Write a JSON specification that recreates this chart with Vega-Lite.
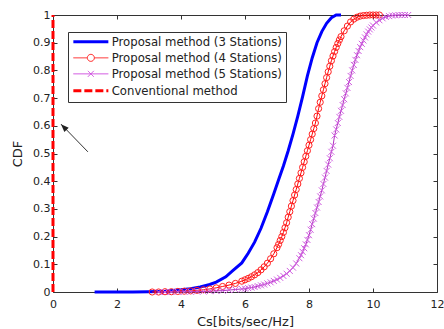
{
  "$schema": "https://vega.github.io/schema/vega-lite/v6.json",
  "width": 384,
  "height": 277,
  "autosize": "none",
  "padding": {"left": 53, "top": 15, "right": 7, "bottom": 37},
  "background": "white",
  "config": {
    "view": {"stroke": null},
    "axis": {
      "domainColor": "#333", "tickColor": "#333", "labelColor": "#222",
      "labelFont": "DejaVu Sans", "labelFontSize": 11,
      "titleFont": "DejaVu Sans", "titleFontSize": 13, "titleFontWeight": "normal", "titleColor": "#222",
      "grid": false, "tickSize": -4, "labelFlush": false, "labelOverlap": false
    }
  },
  "datasets": {
    "curves": [
      {"series": "Conventional method", "x": 0, "y": 0},
      {"series": "Conventional method", "x": 0, "y": 1},
      {"series": "Proposal method (3 Stations)", "x": 1.3, "y": 0},
      {"series": "Proposal method (3 Stations)", "x": 2, "y": 0},
      {"series": "Proposal method (3 Stations)", "x": 2.5, "y": 0},
      {"series": "Proposal method (3 Stations)", "x": 3, "y": 0.001},
      {"series": "Proposal method (3 Stations)", "x": 3.5, "y": 0.003},
      {"series": "Proposal method (3 Stations)", "x": 4, "y": 0.008},
      {"series": "Proposal method (3 Stations)", "x": 4.3, "y": 0.012},
      {"series": "Proposal method (3 Stations)", "x": 4.6, "y": 0.018},
      {"series": "Proposal method (3 Stations)", "x": 4.9, "y": 0.027},
      {"series": "Proposal method (3 Stations)", "x": 5.1, "y": 0.036},
      {"series": "Proposal method (3 Stations)", "x": 5.4, "y": 0.055},
      {"series": "Proposal method (3 Stations)", "x": 5.6, "y": 0.075},
      {"series": "Proposal method (3 Stations)", "x": 5.9, "y": 0.105},
      {"series": "Proposal method (3 Stations)", "x": 6.1, "y": 0.14},
      {"series": "Proposal method (3 Stations)", "x": 6.3, "y": 0.18},
      {"series": "Proposal method (3 Stations)", "x": 6.5, "y": 0.23},
      {"series": "Proposal method (3 Stations)", "x": 6.7, "y": 0.29},
      {"series": "Proposal method (3 Stations)", "x": 6.9, "y": 0.355},
      {"series": "Proposal method (3 Stations)", "x": 7.05, "y": 0.405},
      {"series": "Proposal method (3 Stations)", "x": 7.2, "y": 0.455},
      {"series": "Proposal method (3 Stations)", "x": 7.35, "y": 0.51},
      {"series": "Proposal method (3 Stations)", "x": 7.5, "y": 0.57},
      {"series": "Proposal method (3 Stations)", "x": 7.65, "y": 0.635},
      {"series": "Proposal method (3 Stations)", "x": 7.8, "y": 0.705},
      {"series": "Proposal method (3 Stations)", "x": 7.95, "y": 0.78},
      {"series": "Proposal method (3 Stations)", "x": 8.1, "y": 0.845},
      {"series": "Proposal method (3 Stations)", "x": 8.25, "y": 0.9},
      {"series": "Proposal method (3 Stations)", "x": 8.4, "y": 0.94},
      {"series": "Proposal method (3 Stations)", "x": 8.55, "y": 0.97},
      {"series": "Proposal method (3 Stations)", "x": 8.7, "y": 0.99},
      {"series": "Proposal method (3 Stations)", "x": 8.85, "y": 1},
      {"series": "Proposal method (3 Stations)", "x": 9.0, "y": 1},
      {"series": "Proposal method (4 Stations)", "x": 3.1, "y": 0},
      {"series": "Proposal method (4 Stations)", "x": 3.3, "y": 0},
      {"series": "Proposal method (4 Stations)", "x": 3.5, "y": 0.001},
      {"series": "Proposal method (4 Stations)", "x": 3.7, "y": 0.001},
      {"series": "Proposal method (4 Stations)", "x": 3.9, "y": 0.002},
      {"series": "Proposal method (4 Stations)", "x": 4.1, "y": 0.003},
      {"series": "Proposal method (4 Stations)", "x": 4.3, "y": 0.004},
      {"series": "Proposal method (4 Stations)", "x": 4.5, "y": 0.006},
      {"series": "Proposal method (4 Stations)", "x": 4.7, "y": 0.008},
      {"series": "Proposal method (4 Stations)", "x": 4.9, "y": 0.011},
      {"series": "Proposal method (4 Stations)", "x": 5.1, "y": 0.015},
      {"series": "Proposal method (4 Stations)", "x": 5.3, "y": 0.02},
      {"series": "Proposal method (4 Stations)", "x": 5.5, "y": 0.025},
      {"series": "Proposal method (4 Stations)", "x": 5.7, "y": 0.031},
      {"series": "Proposal method (4 Stations)", "x": 5.9, "y": 0.039},
      {"series": "Proposal method (4 Stations)", "x": 6.0, "y": 0.044},
      {"series": "Proposal method (4 Stations)", "x": 6.1, "y": 0.049},
      {"series": "Proposal method (4 Stations)", "x": 6.2, "y": 0.055},
      {"series": "Proposal method (4 Stations)", "x": 6.3, "y": 0.062},
      {"series": "Proposal method (4 Stations)", "x": 6.4, "y": 0.07},
      {"series": "Proposal method (4 Stations)", "x": 6.5, "y": 0.08},
      {"series": "Proposal method (4 Stations)", "x": 6.6, "y": 0.091},
      {"series": "Proposal method (4 Stations)", "x": 6.7, "y": 0.104},
      {"series": "Proposal method (4 Stations)", "x": 6.8, "y": 0.12},
      {"series": "Proposal method (4 Stations)", "x": 6.9, "y": 0.138},
      {"series": "Proposal method (4 Stations)", "x": 7.0, "y": 0.16},
      {"series": "Proposal method (4 Stations)", "x": 7.05, "y": 0.172},
      {"series": "Proposal method (4 Stations)", "x": 7.1, "y": 0.186},
      {"series": "Proposal method (4 Stations)", "x": 7.15, "y": 0.2},
      {"series": "Proposal method (4 Stations)", "x": 7.2, "y": 0.215},
      {"series": "Proposal method (4 Stations)", "x": 7.25, "y": 0.232},
      {"series": "Proposal method (4 Stations)", "x": 7.3, "y": 0.25},
      {"series": "Proposal method (4 Stations)", "x": 7.35, "y": 0.27},
      {"series": "Proposal method (4 Stations)", "x": 7.4, "y": 0.29},
      {"series": "Proposal method (4 Stations)", "x": 7.45, "y": 0.31},
      {"series": "Proposal method (4 Stations)", "x": 7.5, "y": 0.33},
      {"series": "Proposal method (4 Stations)", "x": 7.55, "y": 0.35},
      {"series": "Proposal method (4 Stations)", "x": 7.6, "y": 0.37},
      {"series": "Proposal method (4 Stations)", "x": 7.65, "y": 0.39},
      {"series": "Proposal method (4 Stations)", "x": 7.7, "y": 0.41},
      {"series": "Proposal method (4 Stations)", "x": 7.75, "y": 0.43},
      {"series": "Proposal method (4 Stations)", "x": 7.8, "y": 0.45},
      {"series": "Proposal method (4 Stations)", "x": 7.85, "y": 0.47},
      {"series": "Proposal method (4 Stations)", "x": 7.9, "y": 0.49},
      {"series": "Proposal method (4 Stations)", "x": 7.95, "y": 0.51},
      {"series": "Proposal method (4 Stations)", "x": 8.0, "y": 0.53},
      {"series": "Proposal method (4 Stations)", "x": 8.05, "y": 0.55},
      {"series": "Proposal method (4 Stations)", "x": 8.1, "y": 0.57},
      {"series": "Proposal method (4 Stations)", "x": 8.15, "y": 0.59},
      {"series": "Proposal method (4 Stations)", "x": 8.2, "y": 0.61},
      {"series": "Proposal method (4 Stations)", "x": 8.25, "y": 0.635},
      {"series": "Proposal method (4 Stations)", "x": 8.3, "y": 0.662},
      {"series": "Proposal method (4 Stations)", "x": 8.35, "y": 0.685},
      {"series": "Proposal method (4 Stations)", "x": 8.4, "y": 0.708},
      {"series": "Proposal method (4 Stations)", "x": 8.45, "y": 0.73},
      {"series": "Proposal method (4 Stations)", "x": 8.5, "y": 0.752},
      {"series": "Proposal method (4 Stations)", "x": 8.55, "y": 0.774},
      {"series": "Proposal method (4 Stations)", "x": 8.6, "y": 0.795},
      {"series": "Proposal method (4 Stations)", "x": 8.65, "y": 0.815},
      {"series": "Proposal method (4 Stations)", "x": 8.7, "y": 0.835},
      {"series": "Proposal method (4 Stations)", "x": 8.75, "y": 0.852},
      {"series": "Proposal method (4 Stations)", "x": 8.8, "y": 0.868},
      {"series": "Proposal method (4 Stations)", "x": 8.85, "y": 0.883},
      {"series": "Proposal method (4 Stations)", "x": 8.9, "y": 0.897},
      {"series": "Proposal method (4 Stations)", "x": 8.95, "y": 0.91},
      {"series": "Proposal method (4 Stations)", "x": 9.0, "y": 0.922},
      {"series": "Proposal method (4 Stations)", "x": 9.1, "y": 0.943},
      {"series": "Proposal method (4 Stations)", "x": 9.2, "y": 0.96},
      {"series": "Proposal method (4 Stations)", "x": 9.3, "y": 0.975},
      {"series": "Proposal method (4 Stations)", "x": 9.4, "y": 0.985},
      {"series": "Proposal method (4 Stations)", "x": 9.5, "y": 0.992},
      {"series": "Proposal method (4 Stations)", "x": 9.6, "y": 0.996},
      {"series": "Proposal method (4 Stations)", "x": 9.7, "y": 0.998},
      {"series": "Proposal method (4 Stations)", "x": 9.8, "y": 0.999},
      {"series": "Proposal method (4 Stations)", "x": 9.9, "y": 1},
      {"series": "Proposal method (4 Stations)", "x": 10.0, "y": 1},
      {"series": "Proposal method (4 Stations)", "x": 10.1, "y": 1},
      {"series": "Proposal method (4 Stations)", "x": 10.2, "y": 1},
      {"series": "Proposal method (5 Stations)", "x": 3.3, "y": 0},
      {"series": "Proposal method (5 Stations)", "x": 3.5, "y": 0},
      {"series": "Proposal method (5 Stations)", "x": 3.7, "y": 0},
      {"series": "Proposal method (5 Stations)", "x": 3.9, "y": 0.001},
      {"series": "Proposal method (5 Stations)", "x": 4.1, "y": 0.001},
      {"series": "Proposal method (5 Stations)", "x": 4.3, "y": 0.001},
      {"series": "Proposal method (5 Stations)", "x": 4.5, "y": 0.002},
      {"series": "Proposal method (5 Stations)", "x": 4.7, "y": 0.002},
      {"series": "Proposal method (5 Stations)", "x": 4.9, "y": 0.003},
      {"series": "Proposal method (5 Stations)", "x": 5.1, "y": 0.004},
      {"series": "Proposal method (5 Stations)", "x": 5.3, "y": 0.005},
      {"series": "Proposal method (5 Stations)", "x": 5.5, "y": 0.007},
      {"series": "Proposal method (5 Stations)", "x": 5.7, "y": 0.009},
      {"series": "Proposal method (5 Stations)", "x": 5.9, "y": 0.011},
      {"series": "Proposal method (5 Stations)", "x": 6.0, "y": 0.012},
      {"series": "Proposal method (5 Stations)", "x": 6.1, "y": 0.014},
      {"series": "Proposal method (5 Stations)", "x": 6.2, "y": 0.016},
      {"series": "Proposal method (5 Stations)", "x": 6.3, "y": 0.018},
      {"series": "Proposal method (5 Stations)", "x": 6.4, "y": 0.021},
      {"series": "Proposal method (5 Stations)", "x": 6.5, "y": 0.024},
      {"series": "Proposal method (5 Stations)", "x": 6.6, "y": 0.027},
      {"series": "Proposal method (5 Stations)", "x": 6.7, "y": 0.031},
      {"series": "Proposal method (5 Stations)", "x": 6.8, "y": 0.035},
      {"series": "Proposal method (5 Stations)", "x": 6.9, "y": 0.04},
      {"series": "Proposal method (5 Stations)", "x": 7.0, "y": 0.045},
      {"series": "Proposal method (5 Stations)", "x": 7.1, "y": 0.051},
      {"series": "Proposal method (5 Stations)", "x": 7.2, "y": 0.058},
      {"series": "Proposal method (5 Stations)", "x": 7.3, "y": 0.066},
      {"series": "Proposal method (5 Stations)", "x": 7.4, "y": 0.076},
      {"series": "Proposal method (5 Stations)", "x": 7.5, "y": 0.088},
      {"series": "Proposal method (5 Stations)", "x": 7.6, "y": 0.103},
      {"series": "Proposal method (5 Stations)", "x": 7.7, "y": 0.122},
      {"series": "Proposal method (5 Stations)", "x": 7.75, "y": 0.133},
      {"series": "Proposal method (5 Stations)", "x": 7.8, "y": 0.145},
      {"series": "Proposal method (5 Stations)", "x": 7.85, "y": 0.158},
      {"series": "Proposal method (5 Stations)", "x": 7.9, "y": 0.172},
      {"series": "Proposal method (5 Stations)", "x": 7.95, "y": 0.188},
      {"series": "Proposal method (5 Stations)", "x": 8.0, "y": 0.205},
      {"series": "Proposal method (5 Stations)", "x": 8.05, "y": 0.225},
      {"series": "Proposal method (5 Stations)", "x": 8.1, "y": 0.245},
      {"series": "Proposal method (5 Stations)", "x": 8.15, "y": 0.265},
      {"series": "Proposal method (5 Stations)", "x": 8.2, "y": 0.285},
      {"series": "Proposal method (5 Stations)", "x": 8.25, "y": 0.305},
      {"series": "Proposal method (5 Stations)", "x": 8.3, "y": 0.325},
      {"series": "Proposal method (5 Stations)", "x": 8.35, "y": 0.345},
      {"series": "Proposal method (5 Stations)", "x": 8.4, "y": 0.367},
      {"series": "Proposal method (5 Stations)", "x": 8.45, "y": 0.39},
      {"series": "Proposal method (5 Stations)", "x": 8.5, "y": 0.413},
      {"series": "Proposal method (5 Stations)", "x": 8.55, "y": 0.437},
      {"series": "Proposal method (5 Stations)", "x": 8.6, "y": 0.46},
      {"series": "Proposal method (5 Stations)", "x": 8.65, "y": 0.483},
      {"series": "Proposal method (5 Stations)", "x": 8.7, "y": 0.506},
      {"series": "Proposal method (5 Stations)", "x": 8.75, "y": 0.528},
      {"series": "Proposal method (5 Stations)", "x": 8.8, "y": 0.565},
      {"series": "Proposal method (5 Stations)", "x": 8.85, "y": 0.587},
      {"series": "Proposal method (5 Stations)", "x": 8.9, "y": 0.61},
      {"series": "Proposal method (5 Stations)", "x": 8.95, "y": 0.632},
      {"series": "Proposal method (5 Stations)", "x": 9.0, "y": 0.654},
      {"series": "Proposal method (5 Stations)", "x": 9.05, "y": 0.675},
      {"series": "Proposal method (5 Stations)", "x": 9.1, "y": 0.696},
      {"series": "Proposal method (5 Stations)", "x": 9.15, "y": 0.717},
      {"series": "Proposal method (5 Stations)", "x": 9.2, "y": 0.737},
      {"series": "Proposal method (5 Stations)", "x": 9.25, "y": 0.758},
      {"series": "Proposal method (5 Stations)", "x": 9.3, "y": 0.78},
      {"series": "Proposal method (5 Stations)", "x": 9.35, "y": 0.8},
      {"series": "Proposal method (5 Stations)", "x": 9.4, "y": 0.82},
      {"series": "Proposal method (5 Stations)", "x": 9.45, "y": 0.838},
      {"series": "Proposal method (5 Stations)", "x": 9.5, "y": 0.855},
      {"series": "Proposal method (5 Stations)", "x": 9.55, "y": 0.87},
      {"series": "Proposal method (5 Stations)", "x": 9.6, "y": 0.884},
      {"series": "Proposal method (5 Stations)", "x": 9.65, "y": 0.896},
      {"series": "Proposal method (5 Stations)", "x": 9.7, "y": 0.908},
      {"series": "Proposal method (5 Stations)", "x": 9.75, "y": 0.919},
      {"series": "Proposal method (5 Stations)", "x": 9.8, "y": 0.93},
      {"series": "Proposal method (5 Stations)", "x": 9.85, "y": 0.94},
      {"series": "Proposal method (5 Stations)", "x": 9.9, "y": 0.948},
      {"series": "Proposal method (5 Stations)", "x": 9.95, "y": 0.955},
      {"series": "Proposal method (5 Stations)", "x": 10.0, "y": 0.962},
      {"series": "Proposal method (5 Stations)", "x": 10.1, "y": 0.973},
      {"series": "Proposal method (5 Stations)", "x": 10.2, "y": 0.981},
      {"series": "Proposal method (5 Stations)", "x": 10.3, "y": 0.988},
      {"series": "Proposal method (5 Stations)", "x": 10.4, "y": 0.993},
      {"series": "Proposal method (5 Stations)", "x": 10.5, "y": 0.996},
      {"series": "Proposal method (5 Stations)", "x": 10.6, "y": 0.998},
      {"series": "Proposal method (5 Stations)", "x": 10.7, "y": 0.999},
      {"series": "Proposal method (5 Stations)", "x": 10.8, "y": 1},
      {"series": "Proposal method (5 Stations)", "x": 10.9, "y": 1},
      {"series": "Proposal method (5 Stations)", "x": 11.0, "y": 1},
      {"series": "Proposal method (5 Stations)", "x": 11.1, "y": 1}
    ],
    "arrow": [{"x0": 1.09, "y0": 0.506, "x1": 0.25, "y1": 0.606}]
  },
  "resolve": {"axis": {"x": "independent", "y": "independent"}},
  "layer": [
    {
      "data": {"name": "curves"},
      "transform": [{"filter": "datum.series === 'Conventional method'"}],
      "mark": {"type": "line", "strokeWidth": 3, "strokeDash": [8, 3]},
      "encoding": {
        "x": {"field": "x", "type": "quantitative", "scale": {"domain": [0, 12], "nice": false}, "axis": null},
        "y": {"field": "y", "type": "quantitative", "scale": {"domain": [0, 1], "nice": false}, "axis": null},
        "color": {
          "field": "series", "type": "nominal",
          "scale": {
            "domain": ["Proposal method (3 Stations)", "Proposal method (4 Stations)", "Proposal method (5 Stations)", "Conventional method"],
            "range": ["#0000ff", "#ff2020", "#cc44dd", "#ff0000"]
          },
          "legend": {
            "orient": "none", "legendX": 15, "legendY": 17, "title": null,
            "symbolSize": 1225, "symbolOffset": 13, "labelOffset": 15,
            "labelFont": "DejaVu Sans", "labelFontSize": 11.7, "labelColor": "#222", "labelLimit": 300,
            "strokeColor": "#333", "fillColor": "white", "padding": 4, "rowPadding": 3,
            "symbolFillColor": "transparent", "symbolOpacity": 1,
            "symbolType": {"expr": "datum.value === 'Proposal method (4 Stations)' ? 'M-1,0H-0.2M0.2,0H1M0.2,0A0.2,0.2,0,1,1,-0.2,0A0.2,0.2,0,1,1,0.2,0' : datum.value === 'Proposal method (5 Stations)' ? 'M-1,0H1M-0.17,-0.17L0.17,0.17M-0.17,0.17L0.17,-0.17' : 'M-1,0H1'"},
            "symbolStrokeWidth": {"expr": "(datum.value === 'Proposal method (3 Stations)' || datum.value === 'Conventional method') ? 3 : 1"},
            "symbolDash": {"expr": "datum.value === 'Conventional method' ? [8,3] : [1,0]"}
          }
        }
      }
    },
    {
      "data": {"name": "curves"},
      "transform": [{"filter": "datum.series === 'Proposal method (3 Stations)'"}],
      "mark": {"type": "line", "strokeWidth": 3, "color": "#0000ff"},
      "encoding": {
        "x": {"field": "x", "type": "quantitative", "scale": {"domain": [0, 12], "nice": false},
              "axis": {"values": [0, 2, 4, 6, 8, 10, 12], "title": "Cs[bits/sec/Hz]", "labelPadding": 10, "titlePadding": 6}},
        "y": {"field": "y", "type": "quantitative", "scale": {"domain": [0, 1], "nice": false},
              "axis": {"values": [0, 0.1, 0.2, 0.3, 0.4, 0.5, 0.6, 0.7, 0.8, 0.9, 1], "format": "~g", "title": "CDF", "labelPadding": 7, "titlePadding": 8}}
      }
    },
    {
      "data": {"name": "curves"},
      "transform": [{"filter": "datum.series === 'Proposal method (4 Stations)'"}],
      "mark": {"type": "line", "strokeWidth": 1, "color": "#ff0000"},
      "encoding": {
        "x": {"field": "x", "type": "quantitative", "axis": null},
        "y": {"field": "y", "type": "quantitative", "axis": null}
      }
    },
    {
      "data": {"name": "curves"},
      "transform": [{"filter": "datum.series === 'Proposal method (4 Stations)'"}],
      "mark": {"type": "point", "shape": "circle", "filled": false, "color": "#ff2020", "size": 38, "strokeWidth": 1, "opacity": 1},
      "encoding": {
        "x": {"field": "x", "type": "quantitative", "axis": null},
        "y": {"field": "y", "type": "quantitative", "axis": null}
      }
    },
    {
      "data": {"name": "curves"},
      "transform": [{"filter": "datum.series === 'Proposal method (5 Stations)'"}],
      "mark": {"type": "line", "strokeWidth": 1, "color": "#b030c0"},
      "encoding": {
        "x": {"field": "x", "type": "quantitative", "axis": null},
        "y": {"field": "y", "type": "quantitative", "axis": null}
      }
    },
    {
      "data": {"name": "curves"},
      "transform": [{"filter": "datum.series === 'Proposal method (5 Stations)'"}],
      "mark": {"type": "point", "shape": "M-1,-1L1,1M-1,1L1,-1", "filled": false, "color": "#d060e0", "size": 36, "strokeWidth": 1, "opacity": 1},
      "encoding": {
        "x": {"field": "x", "type": "quantitative", "axis": null},
        "y": {"field": "y", "type": "quantitative", "axis": null}
      }
    },
    {
      "data": {"name": "arrow"},
      "mark": {"type": "rule", "color": "#333", "strokeWidth": 1},
      "encoding": {
        "x": {"field": "x0", "type": "quantitative",
              "axis": {"orient": "top", "values": [0, 2, 4, 6, 8, 10, 12], "labels": false, "title": null}},
        "y": {"field": "y0", "type": "quantitative",
              "axis": {"orient": "right", "values": [0, 0.1, 0.2, 0.3, 0.4, 0.5, 0.6, 0.7, 0.8, 0.9, 1], "labels": false, "title": null}},
        "x2": {"field": "x1"},
        "y2": {"field": "y1"}
      }
    },
    {
      "data": {"name": "arrow"},
      "mark": {"type": "point", "shape": "M0,0L-0.6,1.6L0.6,1.6Z", "filled": true, "color": "#222", "size": 100, "angle": 316, "opacity": 1},
      "encoding": {
        "x": {"field": "x1", "type": "quantitative", "axis": null},
        "y": {"field": "y1", "type": "quantitative", "axis": null}
      }
    }
  ]
}
